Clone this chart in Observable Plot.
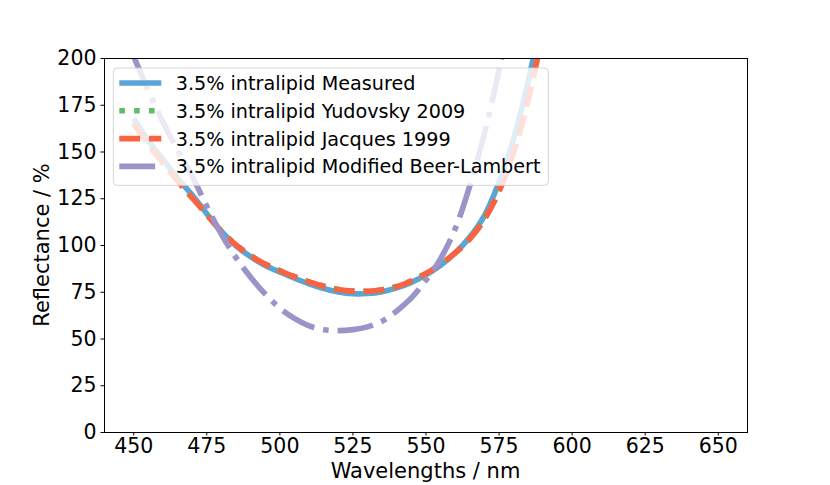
<!DOCTYPE html>
<html>
<head>
<meta charset="utf-8">
<script src="https://cdn.jsdelivr.net/npm/d3@7"></script>
<script src="https://cdn.jsdelivr.net/npm/@observablehq/plot@0.6"></script>
<style>
  html, body { margin: 0; padding: 0; background: white; }
</style>
</head>
<body>
<div id="chart"></div>
<script>
// ---- data ----
const wavelengths = [450,455,460,465,470,475,480,485,490,495,500,505,510,515,520,525,530,535,540,545,550,555,560,565,570,575,580,585,590];
const measured  = [168,156,146,136,127,117,107.5,99.8,94,89.3,85.8,82.5,79.5,77,75.2,74.2,74.3,75.3,77.3,80.3,84.3,89.5,96,104.5,116,134,157,188,226];
const yudovsky  = [165.5,154.5,144.3,134.7,125.6,116.6,107.6,100.4,94.6,90.1,86.6,83.4,80.5,78.2,76.5,75.6,75.5,76.3,78.1,81.1,85.1,90,96.1,103.7,114.3,129.5,150.5,178.5,215];
const jacques   = [165,154,144,134.5,125.5,116.5,107.5,100.3,94.5,90,86.5,83.3,80.5,78.2,76.5,75.6,75.5,76.3,78,81,85,90,96,103.5,114,129,150,178,214];
const beerLambert = [201,183,166,151,137,121,106,93.5,83,74,66.5,61,57,55,54.5,55,56.5,59.5,65,72,81.5,93,109,132,160,194,236,285,340];
const seriesNames = ["3.5% intralipid Measured","3.5% intralipid Yudovsky 2009","3.5% intralipid Jacques 1999","3.5% intralipid Modified Beer-Lambert"];
const xTicks = [450,475,500,525,550,575,600,625,650];
const yTicks = [0,25,50,75,100,125,150,175,200];
const xLabel = "Wavelengths / nm";
const yLabel = "Reflectance / %";

// ---- styles ----
const LW = 5.6;
const styles = [
  {color: "#5aa4d6", dash: null, cap: "butt"},
  {color: "#60bd68", dash: `${LW},${1.65*LW}`, cap: "butt"},
  {color: "#fa6241", dash: `${3.7*LW},${1.6*LW}`, cap: "butt"},
  {color: "#9a94c8", dash: `${6.4*LW},${1.6*LW},${LW},${1.6*LW}`, cap: "butt"}
];
const seriesValues = [measured, yudovsky, jacques, beerLambert];
const tables = seriesValues.map((vals, i) => wavelengths.map((w, j) => ({w, r: vals[j], s: seriesNames[i]})));

const W = 830, H = 485;
const mL = 104, mR = 83, mT = 58, mB = 53;

const chart = Plot.plot({
  width: W, height: H,
  marginLeft: mL, marginRight: mR, marginTop: mT, marginBottom: mB,
  style: {fontFamily: "DejaVu Sans", fontSize: "20.5px", color: "black", background: "white", overflow: "visible"},
  x: {domain: [440, 660]},
  y: {domain: [0, 200]},
  marks: [
    ...tables.map((t, i) => Plot.line(t, {
      x: "w", y: "r", stroke: styles[i].color, strokeWidth: LW,
      strokeDasharray: styles[i].dash, strokeLinecap: styles[i].cap,
      curve: "catmull-rom", clip: true
    })),
    Plot.frame({stroke: "black", strokeWidth: 1}),
    Plot.axisX({ticks: xTicks, tickSize: 3.5, tickPadding: 2.5, label: null, fontSize: 20.5, tickFormat: d => String(d)}),
    Plot.axisY({ticks: yTicks, tickSize: 3.5, tickPadding: 4.5, label: null, fontSize: 20.5, tickFormat: d => String(d)})
  ]
});
document.getElementById("chart").appendChild(chart);

const svg = d3.select(chart);
const plotLeft = mL, plotRight = W - mR, plotTop = mT, plotBottom = H - mB;

// axis labels
svg.append("text")
  .attr("x", (plotLeft + plotRight) / 2).attr("y", 478)
  .attr("text-anchor", "middle")
  .attr("font-family", "DejaVu Sans").attr("font-size", 21).attr("fill", "black")
  .text(xLabel);
svg.append("text")
  .attr("transform", `translate(48.5,${(plotTop + plotBottom) / 2}) rotate(-90)`)
  .attr("text-anchor", "middle")
  .attr("font-family", "DejaVu Sans").attr("font-size", 21).attr("fill", "black")
  .text(yLabel);

// legend
const fs = 19.2;
const lx = plotLeft + 9.3, ly = plotTop + 10;
const rowGap = 27.8;
const lg = svg.append("g");
const rect = lg.append("rect")
  .attr("x", lx).attr("y", ly).attr("rx", 4).attr("ry", 4)
  .attr("fill", "white").attr("fill-opacity", 0.8)
  .attr("stroke", "#cccccc").attr("stroke-opacity", 0.8).attr("stroke-width", 1);
let maxLen = 0;
seriesNames.forEach((name, i) => {
  const cy = ly + 15 + i * rowGap;
  lg.append("line")
    .attr("x1", lx + 6).attr("x2", lx + 48).attr("y1", cy).attr("y2", cy)
    .attr("stroke", styles[i].color).attr("stroke-width", LW)
    .attr("stroke-dasharray", styles[i].dash).attr("stroke-linecap", "butt");
  const t = lg.append("text")
    .attr("x", lx + 62.4).attr("y", cy + 7)
    .attr("text-anchor", "start")
    .attr("font-family", "DejaVu Sans").attr("font-size", fs).attr("fill", "black")
    .text(name);
  maxLen = Math.max(maxLen, t.node().getComputedTextLength());
});
rect.attr("width", 62.4 + maxLen + 7.8).attr("height", 15 + 3 * rowGap + 19);
</script>
</body>
</html>
